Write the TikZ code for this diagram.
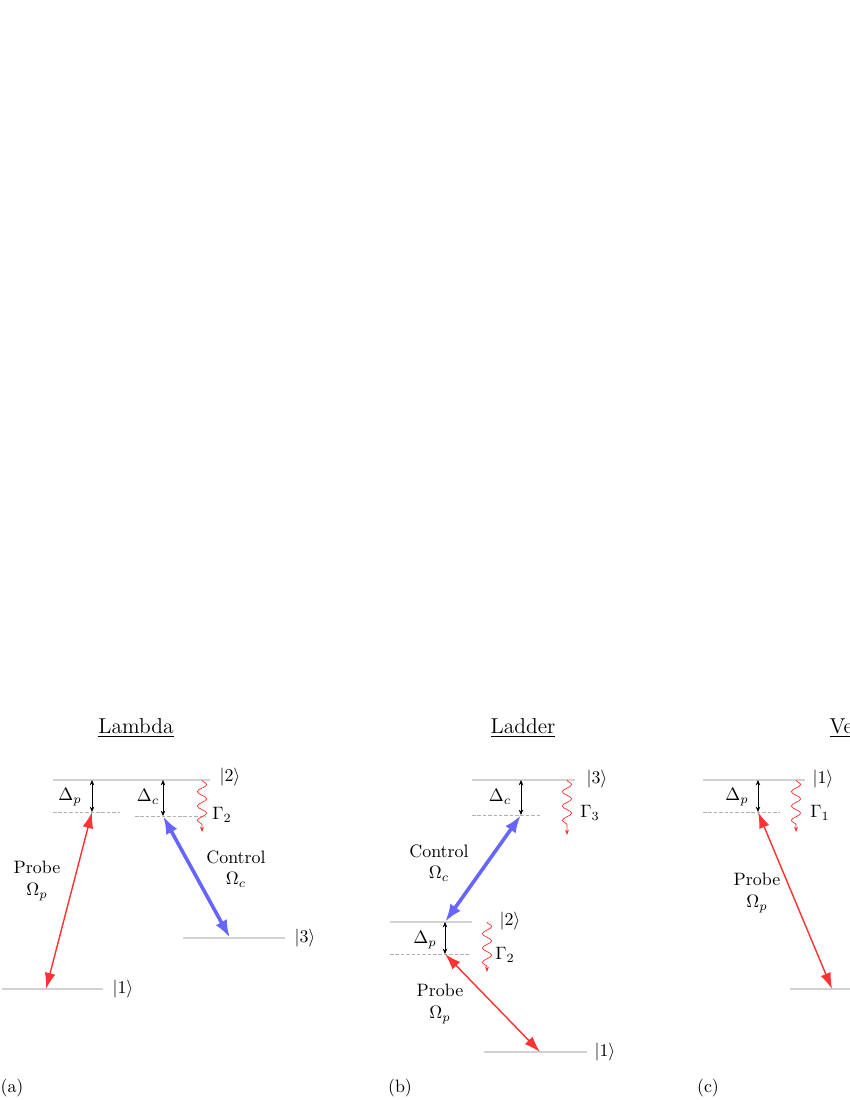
\documentclass[tikz,border=0pt]{standalone}
\usetikzlibrary{arrows.meta,decorations.pathmorphing}
\tikzset{
	level/.style={gray!35, line width=0.7pt},
	virt/.style={gray!60, dashed, dash pattern=on 2pt off 1pt, line width=0.3pt},
	detune/.style={<->, >={Stealth[length=3pt,width=2.5pt]}, line width=0.3pt},
	probe/.style={<->, >={Latex[length=9pt,width=6pt]}, color=red!80, line width=0.8pt},
	control/.style={<->, >={Latex[length=10pt,width=7pt]}, color=blue!60, line width=2pt},
	decay/.style={->, >={Stealth[length=3pt]}, red!80, decorate, decoration={snake, amplitude=2.6pt, segment length=8pt, post length=2pt}},
	title/.style={font=\large}
}
\begin{document}
\begin{tikzpicture}[x=0.0196cm, y=-0.0196cm]
\useasboundingbox (0,0) rectangle (850,1100);

% Lambda
\node[title] (tA) at (136,728) {\underline{Lambda}};
\draw[level] (53,780) -- (210,780);
\node (A2) at (230,777) {$|2\rangle$};
\draw[virt] (53,812) -- (120,812);
\draw[virt] (135,816) -- (205,816);
\coordinate (Ap) at (92,812);
\coordinate (Ac) at (163,816);
\draw[detune] (92,780) -- (Ap);
\draw[detune] (163,780) -- (Ac);
\node (Adp) at (70,797) {$\Delta_p$};
\node (Adc) at (148,797) {$\Delta_c$};
\draw[decay] (202,780) -- (202,832);
\node (AG) at (222,815) {$\Gamma_2$};
\draw[level] (2,989) -- (103,989);
\node (A1) at (123,989) {$|1\rangle$};
\coordinate (A1p) at (46,989);
\draw[level] (183,938) -- (285,938);
\node (A3) at (305,938) {$|3\rangle$};
\coordinate (A3c) at (230,938);
\draw[probe] (A1p) -- (Ap);
\draw[control] (Ac) -- (A3c);
\node[align=center] (Apl) at (37,881) {Probe\\$\Omega_p$};
\node[align=center] (Acl) at (236,869) {Control\\$\Omega_c$};
\node (a) at (12,1088) {(a)};

% Ladder
\node[title] (tB) at (523,728) {\underline{Ladder}};
\draw[level] (472,780) -- (575,780);
\node (B3) at (597,779) {$|3\rangle$};
\draw[virt] (472,815) -- (540,815);
\coordinate (Bc) at (521,815);
\draw[detune] (521,780) -- (Bc);
\node (Bdc) at (500,797) {$\Delta_c$};
\draw[decay] (567,780) -- (567,835);
\node (BG3) at (590,813) {$\Gamma_3$};
\draw[level] (390,922) -- (472,922);
\node (B2) at (510,921) {$|2\rangle$};
\coordinate (B2c) at (445,922);
\draw[virt] (390,954) -- (470,954);
\coordinate (Bp) at (445,954);
\draw[detune] (B2c) -- (Bp);
\node (Bdp) at (425,940) {$\Delta_p$};
\draw[decay] (487,922) -- (487,972);
\node (BG2) at (505,955) {$\Gamma_2$};
\draw[level] (484,1052) -- (587,1052);
\node (B1) at (605,1052) {$|1\rangle$};
\coordinate (B1p) at (540,1052);
\draw[control] (Bc) -- (B2c);
\draw[probe] (Bp) -- (B1p);
\node[align=center] (Bcl) at (439,863) {Control\\$\Omega_c$};
\node[align=center] (Bpl) at (440,1004) {Probe\\$\Omega_p$};
\node (b) at (400,1088) {(b)};

% Vee
\node[title] (tC) at (846,728) {\underline{Vee}};
\draw[level] (703,780) -- (805,780);
\node (C1) at (823,779) {$|1\rangle$};
\draw[virt] (703,812) -- (780,812);
\coordinate (Cp) at (758,812);
\draw[detune] (758,780) -- (Cp);
\node (Cdp) at (737,797) {$\Delta_p$};
\draw[decay] (796,780) -- (796,832);
\node (CG) at (820,813) {$\Gamma_1$};
\draw[level] (790,989) -- (900,989);
\coordinate (C0p) at (832,989);
\draw[probe] (Cp) -- (C0p);
\node[align=center] (Cpl) at (757,893) {Probe\\$\Omega_p$};
\node (c) at (708,1088) {(c)};
\end{tikzpicture}
\end{document}
